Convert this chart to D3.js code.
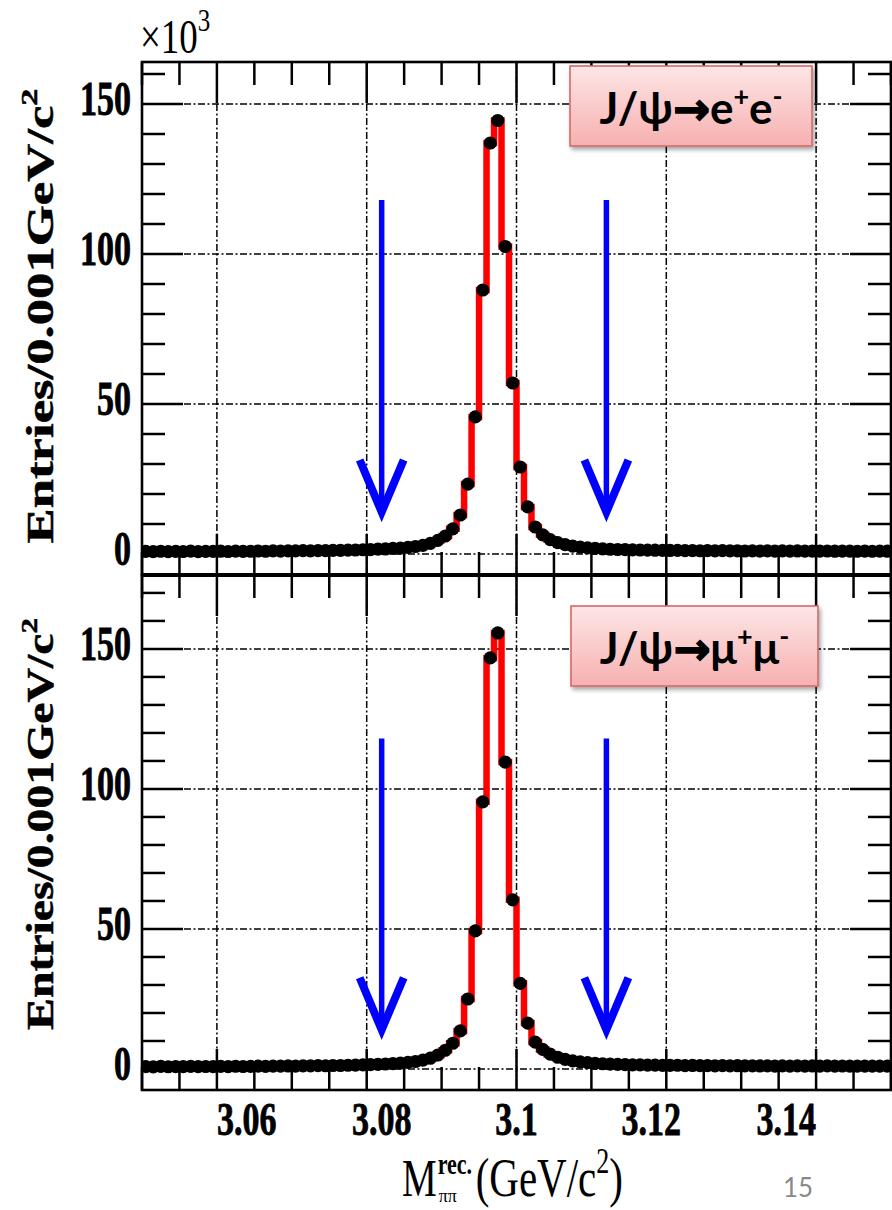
<!DOCTYPE html>
<html><head><meta charset="utf-8">
<script src="https://cdn.jsdelivr.net/npm/d3@7"></script>
<style>body{margin:0;background:#fff;} svg{display:block}</style>
</head><body>
<svg id="c" width="892" height="1210"></svg>
<script>
// ---------------- DATA (entries in units of 10^3 per 0.001 GeV/c^2) ----------------
const binLow = 3.050;
const binWidth = 0.001;
const eeCounts = [
  0.85,0.78,0.92,0.80,0.88,0.83,0.95,0.81,0.90,0.86,
  0.93,0.84,0.97,0.89,0.92,1.00,0.91,1.03,0.98,1.05,
  1.02,1.10,1.06,1.15,1.12,1.22,1.20,1.30,1.33,1.42,
  1.48,1.60,1.68,1.85,1.98,2.20,2.50,2.90,3.55,4.55,
  6.0,8.4,13.0,23.3,45.7,88.0,137.0,144.5,102.5,57.0,
  29.0,15.7,9.0,6.4,4.8,3.8,3.15,2.65,2.30,2.05,
  1.85,1.72,1.58,1.50,1.45,1.36,1.33,1.27,1.26,1.20,
  1.18,1.22,1.12,1.15,1.08,1.12,1.05,1.10,1.02,1.07,
  1.00,1.05,0.98,1.03,0.97,1.02,0.95,1.01,0.96,0.99,
  0.94,1.00,0.93,0.98,0.95,0.92,0.97,0.91,0.96,0.93
];
const mumuCounts = [
  0.85,0.78,0.92,0.80,0.88,0.82,0.95,0.83,0.90,0.86,
  0.93,0.87,0.98,0.90,0.95,1.01,0.93,1.05,1.00,1.08,
  1.04,1.12,1.10,1.18,1.16,1.25,1.24,1.34,1.38,1.48,
  1.55,1.68,1.78,1.95,2.10,2.35,2.68,3.15,3.85,5.00,
  6.7,9.2,13.6,25.0,49.3,95.4,146.8,155.7,109.6,60.4,
  30.6,16.4,9.6,7.0,5.3,4.2,3.45,2.90,2.52,2.25,
  2.02,1.88,1.74,1.64,1.58,1.49,1.45,1.39,1.37,1.31,
  1.29,1.33,1.23,1.26,1.19,1.22,1.15,1.20,1.12,1.17,
  1.10,1.15,1.08,1.13,1.06,1.11,1.04,1.10,1.05,1.08,
  1.03,1.09,1.02,1.07,1.04,1.01,1.06,1.00,1.05,1.02
];
const xDomain = [3.05, 3.15];
const xMajorTicks = [3.06, 3.08, 3.10, 3.12, 3.14];
const xTickLabels = ["3.06", "3.08", "3.1", "3.12", "3.14"];
const yMajorTicks = [0, 50, 100, 150];
const yTickLabels = ["0", "50", "100", "150"];
const cutValues = [3.082, 3.112];
const arrowSpan = [118, 14];
const channelLabels = [["J/ψ", "→", "e", "+", "e", "-"], ["J/ψ", "→", "μ", "+", "μ", "-"]];
const yTitle = "Entries/0.001GeV/c";
const multiplier = ["×10", "3"];
const pageNumber = "15";

// ---------------- LAYOUT ----------------
const svg = d3.select("#c");
const X0 = 142, X1 = 891;
const x = d3.scaleLinear().domain(xDomain).range([X0, X1]);
const panels = [
  {counts: eeCounts, domain: [-7, 164], range: [575, 62], label: channelLabels[0],
   box: [570, 66, 242, 80], yTitleCenter: 316, yTitleLen: 455},
  {counts: mumuCounts, domain: [-7.5, 176.4], range: [1090, 575], label: channelLabels[1],
   box: [571, 606, 247, 80], yTitleCenter: 824, yTitleLen: 412}
];
const serif = "'Liberation Serif','Times New Roman',serif";
const sans = "Lato,'Open Sans','DejaVu Sans',sans-serif";

const defs = svg.append("defs");
const grad = defs.append("linearGradient").attr("id", "pinkGrad").attr("x1", 0).attr("y1", 0).attr("x2", 0).attr("y2", 1);
grad.append("stop").attr("offset", "0%").attr("stop-color", "#fde6e6");
grad.append("stop").attr("offset", "100%").attr("stop-color", "#f7b0b0");
const shadow = defs.append("filter").attr("id", "shadow").attr("x", "-10%").attr("y", "-10%").attr("width", "130%").attr("height", "140%");
shadow.append("feDropShadow").attr("dx", 2).attr("dy", 3).attr("stdDeviation", 2.2).attr("flood-color", "#000").attr("flood-opacity", 0.35);

const MAJ = 41, MIN = 23;
const dashes = "7,2.5,2,2.5";

panels.forEach((p, pi) => {
  const y = d3.scaleLinear().domain(p.domain).range(p.range);
  const yTop = p.range[1], yBot = p.range[0];
  const g = svg.append("g");
  const clipId = "clip" + pi;
  defs.append("clipPath").attr("id", clipId).append("rect")
    .attr("x", X0).attr("y", yTop).attr("width", X1 - X0).attr("height", yBot - yTop);

  // grid
  g.selectAll(".gh").data(yMajorTicks).join("line")
    .attr("x1", X0).attr("x2", X1).attr("y1", d => y(d)).attr("y2", d => y(d))
    .attr("stroke", "#000").attr("stroke-width", 1.5).attr("stroke-dasharray", dashes);
  g.selectAll(".gv").data(xMajorTicks).join("line")
    .attr("x1", d => x(d)).attr("x2", d => x(d)).attr("y1", yTop).attr("y2", yBot)
    .attr("stroke", "#000").attr("stroke-width", 1.5).attr("stroke-dasharray", dashes);

  // histogram (red step line)
  const pts = p.counts.map((v, i) => [binLow + i * binWidth, v]);
  pts.push([binLow + p.counts.length * binWidth, p.counts[p.counts.length - 1]]);
  const line = d3.line().x(d => x(d[0])).y(d => y(d[1])).curve(d3.curveStepAfter);
  g.append("path").attr("d", line(pts)).attr("fill", "none")
    .attr("stroke", "#ff0000").attr("stroke-width", 6.5).attr("clip-path", `url(#${clipId})`);

  // data points
  g.append("g").attr("clip-path", `url(#${clipId})`).selectAll("circle").data(p.counts).join("circle")
    .attr("cx", (d, i) => x(binLow + (i + 0.5) * binWidth)).attr("cy", d => y(d))
    .attr("r", 6.6).attr("fill", "#000");

  // arrows
  cutValues.forEach(c => {
    const ax = x(c), a1 = y(arrowSpan[0]), a2 = y(arrowSpan[1]);
    g.append("line").attr("x1", ax).attr("x2", ax).attr("y1", a1).attr("y2", a2 - 2)
      .attr("stroke", "#0000ff").attr("stroke-width", 5.5);
    g.append("path").attr("d", `M${ax - 22},${a2 - 52} L${ax},${a2} L${ax + 22},${a2 - 52}`)
      .attr("fill", "none").attr("stroke", "#0000ff").attr("stroke-width", 8).attr("stroke-linejoin", "miter");
  });

  // ticks
  const yMinor = d3.range(10, p.domain[1], 10).filter(v => !yMajorTicks.includes(v));
  const tickG = g.append("g").attr("stroke", "#000").attr("stroke-width", 2.5);
  const yAll = yMajorTicks.map(v => [v, MAJ]).concat(yMinor.map(v => [v, MIN]));
  tickG.selectAll(".tl").data(yAll).join("line")
    .attr("x1", X0).attr("x2", d => X0 + d[1]).attr("y1", d => y(d[0])).attr("y2", d => y(d[0]));
  tickG.selectAll(".tr").data(yAll).join("line")
    .attr("x1", X1).attr("x2", d => X1 - d[1]).attr("y1", d => y(d[0])).attr("y2", d => y(d[0]));
  const xMinor = d3.range(0, 21).map(i => +(xDomain[0] + i * 0.005).toFixed(3))
    .filter(v => !xMajorTicks.some(m => Math.abs(m - v) < 1e-6));
  const xAll = xMajorTicks.map(v => [v, MAJ]).concat(xMinor.map(v => [v, MIN]));
  tickG.selectAll(".tt").data(xAll).join("line")
    .attr("x1", d => x(d[0])).attr("x2", d => x(d[0])).attr("y1", yTop).attr("y2", d => yTop + d[1]);
  tickG.selectAll(".tb").data(xAll).join("line")
    .attr("x1", d => x(d[0])).attr("x2", d => x(d[0])).attr("y1", yBot).attr("y2", d => yBot - d[1]);

  // frame
  g.append("rect").attr("x", X0).attr("y", yTop).attr("width", X1 - X0).attr("height", yBot - yTop)
    .attr("fill", "none").attr("stroke", "#000").attr("stroke-width", 2.6);

  // y tick labels
  g.selectAll(".yl").data(yMajorTicks).join("text")
    .attr("transform", d => `translate(${X0 - 11},${y(d) + 11}) scale(1,1.4)`)
    .attr("text-anchor", "end").attr("font-family", serif).attr("font-weight", "bold")
    .attr("font-size", 34).attr("fill", "#000").attr("stroke", "#000").attr("stroke-width", 0.6)
    .text((d, i) => yTickLabels[i]);

  // y title
  const yt = g.append("text").attr("font-family", serif).attr("font-weight", "bold")
    .attr("font-size", 37).attr("text-anchor", "middle").attr("fill", "#000")
    .attr("stroke", "#000").attr("stroke-width", 0.5);
  yt.append("tspan").text(yTitle);
  yt.append("tspan").attr("font-size", 24).attr("dy", -16).text("2");
  const natural = yt.node().getComputedTextLength();
  yt.attr("transform", `translate(53,${p.yTitleCenter}) rotate(-90) scale(${p.yTitleLen / natural},1)`);

  // channel label box
  const [bx, by, bw, bh] = p.box;
  g.append("rect").attr("x", bx).attr("y", by).attr("width", bw).attr("height", bh)
    .attr("fill", "url(#pinkGrad)").attr("stroke", "#d46a6a").attr("stroke-width", 1.6)
    .attr("filter", "url(#shadow)");
  const lt = g.append("text").attr("x", bx + bw / 2).attr("y", by + 58)
    .attr("text-anchor", "middle").attr("font-family", sans).attr("font-weight", "bold")
    .attr("font-size", 44).attr("fill", "#000");
  const L = p.label;
  lt.append("tspan").text(L[0]);
  lt.append("tspan").attr("font-family", "'DejaVu Sans',sans-serif").attr("font-size", 44)
    .attr("stroke", "#000").attr("stroke-width", 1.5).text(L[1]);
  lt.append("tspan").text(L[2]);
  lt.append("tspan").attr("font-size", 27).attr("dy", -18).text(L[3]);
  lt.append("tspan").attr("dy", 18).text(L[4]);
  lt.append("tspan").attr("font-size", 27).attr("dy", -18).text(L[5]);
});

// thicker shared border between the two pads
svg.append("line").attr("x1", X0).attr("x2", X1).attr("y1", 575).attr("y2", 575)
  .attr("stroke", "#000").attr("stroke-width", 4);

// x tick labels (bottom panel only)
const x31 = x(3.10);
svg.selectAll(".xl").data(xMajorTicks).join("text")
  .attr("transform", d => `translate(${x31 + (x(d) - x31) * 0.9},1135) scale(1,1.38)`)
  .attr("text-anchor", "middle").attr("font-family", serif).attr("font-weight", "bold")
  .attr("font-size", 34).attr("fill", "#000").attr("stroke", "#000").attr("stroke-width", 0.6)
  .text((d, i) => xTickLabels[i]);

// x title
const xStart = 402;
const tM = svg.append("text").attr("transform", `translate(${xStart},1196) scale(1,1.36)`)
  .attr("font-family", serif).attr("font-size", 39).attr("fill", "#000").text("M");
const mW = tM.node().getComputedTextLength();
svg.append("text").attr("transform", `translate(${xStart + mW + 1},1174) scale(1,1.36)`)
  .attr("font-family", serif).attr("font-size", 22).attr("font-weight", "bold").text("rec.");
svg.append("text").attr("transform", `translate(${xStart + mW + 2},1202) scale(1,1.1)`)
  .attr("font-family", serif).attr("font-size", 18).text("ππ");
const paren = svg.append("text").attr("transform", `translate(${xStart + mW + 39},1196) scale(1,1.36)`)
  .attr("font-family", serif).attr("font-size", 41).attr("fill", "#000");
paren.append("tspan").text("(GeV/c");
paren.append("tspan").attr("font-size", 26).attr("dy", -17).text("2");
paren.append("tspan").attr("dy", 17).text(")");

// multiplier
const mul = svg.append("text").attr("transform", "translate(140,53) scale(1,1.3)")
  .attr("font-family", serif).attr("font-size", 37).attr("fill", "#000");
mul.append("tspan").text(multiplier[0]);
mul.append("tspan").attr("font-size", 25).attr("dy", -17).text(multiplier[1]);

// page number
svg.append("text").attr("x", 798).attr("y", 1197).attr("text-anchor", "middle")
  .attr("font-family", "Lato,'Open Sans',sans-serif").attr("font-size", 26).attr("fill", "#8a8a8a")
  .text(pageNumber);
</script>
</body></html>
